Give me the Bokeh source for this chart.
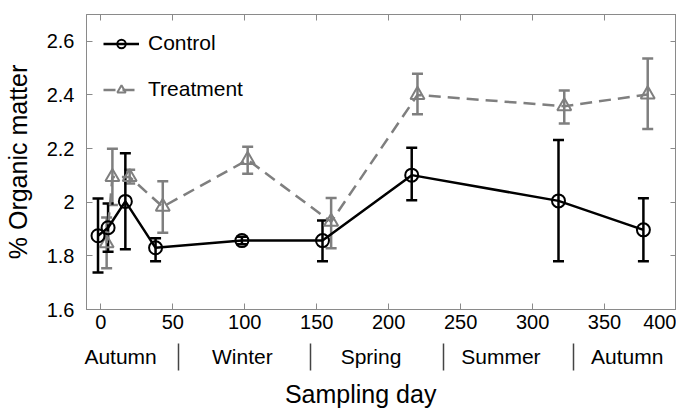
from bokeh.plotting import figure
from bokeh.models import (ColumnDataSource, Whisker, TeeHead, FixedTicker, LinearAxis, Range1d)
from bokeh.embed import file_html
from bokeh.resources import INLINE

# ---- data ----
ctrl_day = [-2, 5, 17, 38, 98, 154, 216, 318, 377]
ctrl_mean = [1.875, 1.905, 2.003, 1.830, 1.857, 1.857, 2.101, 2.005, 1.897]
ctrl_upper = [2.014, 1.995, 2.183, 1.866, 1.871, 1.932, 2.203, 2.232, 2.015]
ctrl_lower = [1.738, 1.815, 1.825, 1.780, 1.843, 1.780, 2.007, 1.780, 1.780]

trt_day = [4, 8, 20, 43, 102, 160, 220, 322, 380]
trt_mean = [1.847, 2.094, 2.094, 1.983, 2.158, 1.927, 2.400, 2.358, 2.402]
trt_upper = [1.943, 2.199, 2.121, 2.078, 2.207, 2.016, 2.479, 2.417, 2.536]
trt_lower = [1.754, 1.990, 2.070, 1.886, 2.106, 1.828, 2.328, 2.294, 2.273]

x_ticks = [0, 50, 100, 150, 200, 250, 300, 350, 400]
y_ticks = [1.6, 1.8, 2.0, 2.2, 2.4, 2.6]
y_tick_labels = ["1.6", "1.8", "2", "2.2", "2.4", "2.6"]

season_names = ["Autumn", "Winter", "Spring", "Summer", "Autumn"]
season_centers = [13.7, 98.3, 187.7, 278, 365.7]
season_bounds = [54, 145.5, 238, 328.5]

FONT = "Liberation Sans"
GRAY = "#7f7f7f"
FRAME = "#8a8a8a"
NBSP = "\u00a0"

p = figure(frame_width=590, frame_height=295, output_backend="svg", toolbar_location=None,
           x_range=Range1d(-10, 400), y_range=Range1d(1.6, 2.7),
           min_border_left=0, min_border_right=0, min_border_top=0, min_border_bottom=0)
p.grid.visible = False
p.outline_line_color = FRAME
p.outline_line_width = 1

def style_axis(ax, labels=True):
    ax.axis_line_color = FRAME
    ax.major_tick_line_color = FRAME
    ax.major_tick_in = 6
    ax.major_tick_out = 0
    ax.minor_tick_line_color = None
    ax.minor_tick_in = 0
    ax.minor_tick_out = 0
    ax.major_label_text_font = FONT
    ax.major_label_text_font_size = "20px"
    ax.major_label_text_color = "black"
    if not labels:
        ax.major_label_text_font_size = "0px"
        ax.major_label_text_color = None
        ax.major_label_standoff = 0

xa = p.xaxis[0]
xa.ticker = FixedTicker(ticks=x_ticks)
style_axis(xa)
xa.major_label_standoff = 5
# small invisible spacer label to push the season row down a bit
xa.axis_label = NBSP
xa.axis_label_text_font_size = "2px"
xa.axis_label_standoff = 7

ya = p.yaxis[0]
ya.ticker = FixedTicker(ticks=y_ticks)
ya.major_label_overrides = {t: s for t, s in zip(y_ticks, y_tick_labels)}
style_axis(ya)
ya.major_label_standoff = 12
ya.axis_label = "% Organic matter"
ya.axis_label_text_font = FONT
ya.axis_label_text_font_size = "25px"
ya.axis_label_text_font_style = "normal"
ya.axis_label_text_color = "black"
ya.axis_label_standoff = 12

top = LinearAxis(ticker=FixedTicker(ticks=x_ticks))
style_axis(top, labels=False)
top.axis_label = NBSP
top.axis_label_text_font_size = "2px"
top.axis_label_standoff = 9
p.add_layout(top, "above")
right = LinearAxis(ticker=FixedTicker(ticks=y_ticks))
style_axis(right, labels=False)
p.add_layout(right, "right")

# season axis (labels at season centres, separators as minor ticks)
season_axis = LinearAxis(ticker=FixedTicker(ticks=season_centers, minor_ticks=season_bounds))
season_axis.major_label_overrides = {c: n for c, n in zip(season_centers, season_names)}
season_axis.axis_line_color = None
season_axis.major_tick_line_color = None
season_axis.major_tick_in = 0
season_axis.major_tick_out = 0
season_axis.minor_tick_line_color = "#444444"
season_axis.minor_tick_line_width = 1.5
season_axis.minor_tick_in = 0
season_axis.minor_tick_out = 27
season_axis.major_label_standoff = -26
season_axis.major_label_text_font = FONT
season_axis.major_label_text_font_size = "21px"
season_axis.major_label_text_color = "black"
season_axis.axis_label = "Sampling day" + NBSP * 6
season_axis.axis_label_text_font = FONT
season_axis.axis_label_text_font_size = "25px"
season_axis.axis_label_text_font_style = "normal"
season_axis.axis_label_text_color = "black"
season_axis.axis_label_standoff = 9
p.add_layout(season_axis, "below")

# ---- sources ----
cs = ColumnDataSource(dict(x=ctrl_day, y=ctrl_mean, upper=ctrl_upper, lower=ctrl_lower))
ts = ColumnDataSource(dict(x=trt_day, y=trt_mean, upper=trt_upper, lower=trt_lower))

# error bars
for src, col in ((ts, GRAY), (cs, "black")):
    w = Whisker(source=src, base="x", upper="upper", lower="lower", dimension="height",
                line_color=col, line_width=2.5,
                upper_head=TeeHead(size=11, line_color=col, line_width=2.5),
                lower_head=TeeHead(size=11, line_color=col, line_width=2.5))
    p.add_layout(w)

# treatment
p.line("x", "y", source=ts, line_color=GRAY, line_width=2.5, line_dash="12 7",
       legend_label="Treatment")
p.scatter("x", "y", source=ts, marker="triangle", size=14, line_color=GRAY,
          line_width=2, fill_alpha=0, legend_label="Treatment")
# control
p.line("x", "y", source=cs, line_color="black", line_width=2.5, legend_label="Control")
p.scatter("x", "y", source=cs, marker="circle", size=13, line_color="black",
          line_width=2, fill_alpha=0, legend_label="Control")

leg = p.legend[0]
leg.items = list(reversed(leg.items))
leg.location = "top_left"
leg.border_line_color = None
leg.background_fill_alpha = 0
leg.label_text_font = FONT
leg.label_text_font_size = "21px"
leg.label_text_color = "black"
leg.glyph_height = 21
leg.label_height = 21
leg.glyph_width = 36
leg.spacing = 22
leg.margin = 17
leg.padding = 10
leg.label_standoff = 9

open("out.html", "w").write(file_html(p, INLINE))
